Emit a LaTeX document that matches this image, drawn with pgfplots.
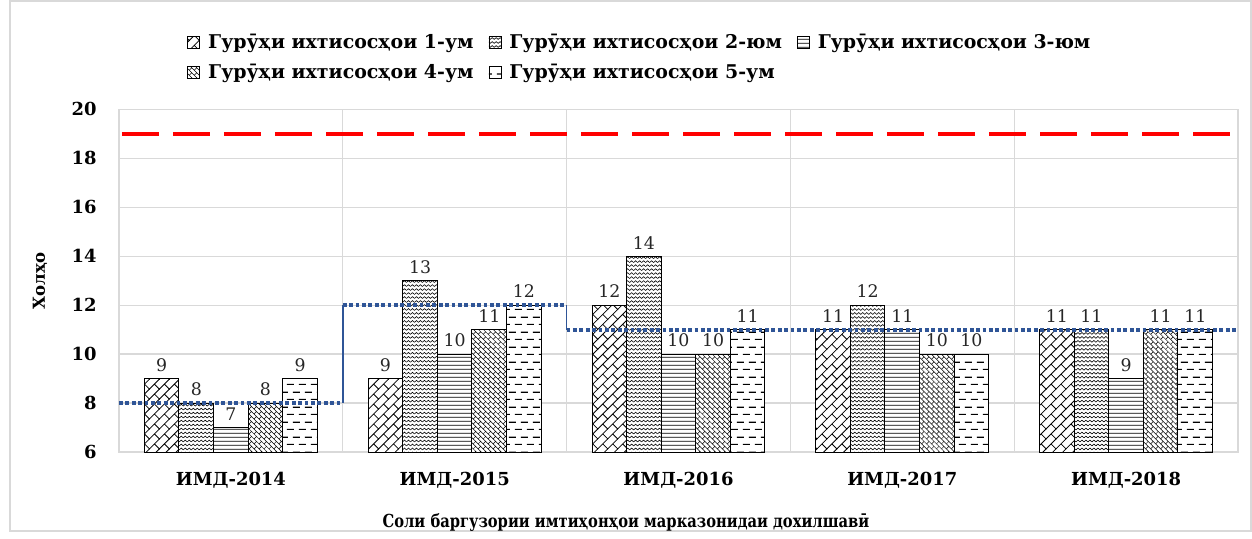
\documentclass[border=0pt]{standalone}
\usepackage{fontspec}
\setmainfont{DejaVu Serif}
\newfontfamily\condserif[FakeStretch=0.82]{DejaVu Serif}
\usepackage{pgfplots}
\pgfplotsset{compat=1.18}
\usetikzlibrary{patterns}

\pgfdeclarepatternformonly{diagbrick}{\pgfqpoint{-0.5pt}{-0.5pt}}{\pgfqpoint{5.5pt}{5.5pt}}{\pgfqpoint{5pt}{5pt}}{
  \pgfsetlinewidth{0.4pt}
  \pgfpathmoveto{\pgfqpoint{-0.2pt}{-0.2pt}}\pgfpathlineto{\pgfqpoint{5.2pt}{5.2pt}}
  \pgfpathmoveto{\pgfqpoint{5pt}{0pt}}\pgfpathlineto{\pgfqpoint{2.5pt}{2.5pt}}
  \pgfusepath{stroke}}
\pgfdeclarepatternformonly{wavy}{\pgfqpoint{-0.3pt}{0pt}}{\pgfqpoint{2.3pt}{2pt}}{\pgfqpoint{2pt}{2pt}}{
  \pgfsetlinewidth{0.3pt}
  \pgfpathmoveto{\pgfqpoint{0pt}{0.5pt}}\pgfpathlineto{\pgfqpoint{1pt}{1.4pt}}\pgfpathlineto{\pgfqpoint{2pt}{0.5pt}}
  \pgfusepath{stroke}}
\pgfdeclarepatternformonly{hlinesdense}{\pgfqpoint{0pt}{0pt}}{\pgfqpoint{1pt}{2.1pt}}{\pgfqpoint{1pt}{2.1pt}}{
  \pgfsetlinewidth{0.4pt}
  \pgfpathmoveto{\pgfqpoint{-0.1pt}{1.05pt}}\pgfpathlineto{\pgfqpoint{1.1pt}{1.05pt}}
  \pgfusepath{stroke}}
\pgfdeclarepatternformonly{weave}{\pgfqpoint{-0.3pt}{-0.3pt}}{\pgfqpoint{2.8pt}{2.8pt}}{\pgfqpoint{2.5pt}{2.5pt}}{
  \pgfsetlinewidth{0.25pt}
  \pgfpathmoveto{\pgfqpoint{0pt}{0pt}}\pgfpathlineto{\pgfqpoint{1.25pt}{1.25pt}}\pgfpathlineto{\pgfqpoint{2.5pt}{0pt}}
  \pgfpathmoveto{\pgfqpoint{0pt}{2.5pt}}\pgfpathlineto{\pgfqpoint{1.25pt}{1.25pt}}
  \pgfusepath{stroke}}
\pgfdeclarepatternformonly{dashrows}{\pgfqpoint{0pt}{0pt}}{\pgfqpoint{6pt}{7.6pt}}{\pgfqpoint{6pt}{7.6pt}}{
  \pgfsetlinewidth{0.6pt}
  \pgfpathmoveto{\pgfqpoint{0.5pt}{1.9pt}}\pgfpathlineto{\pgfqpoint{4pt}{1.9pt}}
  \pgfpathmoveto{\pgfqpoint{3.5pt}{5.7pt}}\pgfpathlineto{\pgfqpoint{6pt}{5.7pt}}
  \pgfpathmoveto{\pgfqpoint{0pt}{5.7pt}}\pgfpathlineto{\pgfqpoint{1pt}{5.7pt}}
  \pgfusepath{stroke}}

\definecolor{stepblue}{RGB}{47,85,151}

\begin{document}
\begin{tikzpicture}
\path (-59.5bp,-40bp) rectangle (566.5bp,226bp);
\draw[black!15, line width=0.7bp] (-54.5bp,-39.5bp) rectangle (566bp,225.5bp);
\begin{axis}[
  at={(0,0)}, anchor=south west,
  scale only axis, width=559.5bp, height=171.35bp,
  xmin=-0.5, xmax=4.5, ymin=6, ymax=20,
  ytick={6,8,...,20},
  xtick={0,1,2,3,4},
  xticklabels={ИМД-2014,ИМД-2015,ИМД-2016,ИМД-2017,ИМД-2018},
  minor xtick={0.5,1.5,2.5,3.5},
  xminorgrids, ymajorgrids,
  grid style={black!15, line width=0.6bp},
  minor grid style={black!15, line width=0.6bp},
  axis line style={black!15, line width=0.6bp},
  major tick length=0pt, minor tick length=0pt,
  /pgf/number format/assume math mode=true,
  yticklabel style={font=\bfseries\fontsize{9}{10}\selectfont, inner sep=0pt, anchor=east, xshift=-11bp},
  xticklabel style={font=\bfseries\fontsize{9}{10}\selectfont, inner sep=0pt, anchor=center, yshift=-14bp},
  ylabel={Холҳо},
  xlabel={Соли баргузории имтиҳонҳои марказонидаи дохилшавӣ},
  y label style={font=\bfseries\fontsize{8.3}{10}\selectfont, at={(axis description cs:-0.0706,0.5)}, anchor=center},
  x label style={font=\condserif\bfseries\fontsize{9}{10}\selectfont, at={(axis description cs:0.453,-0.207)}, anchor=center},
  ybar, bar width=0.1546,
  legend columns=3,
  legend cell align=left,
  legend style={at={(axis description cs:0.0608,1.232)}, anchor=north west, draw=none, fill=none,
    font=\bfseries\fontsize{9.5}{11}\selectfont, row sep=2.3bp, inner sep=0pt,
    /tikz/every odd column/.append style={column sep=2bp},
    /tikz/every even column/.append style={column sep=5.5bp}},
  legend image code/.code={\draw[#1, line width=0.4bp] (0bp,-3bp) rectangle (6bp,3bp);},
  barstyle/.style={ybar, draw=black, line width=0.5bp, fill=white, nodes near coords,
    every node near coord/.append style={font=\fontsize{8.7}{10}\selectfont, color=black!85}},
]
\addplot[barstyle, bar shift=-0.3092, postaction={pattern=diagbrick}] coordinates {(0,9) (1,9) (2,12) (3,11) (4,11)};
\addlegendentry{Гурӯҳи ихтисосҳои 1-ум}
\addplot[barstyle, bar shift=-0.1546, postaction={pattern=wavy}] coordinates {(0,8) (1,13) (2,14) (3,12) (4,11)};
\addlegendentry{Гурӯҳи ихтисосҳои 2-юм}
\addplot[barstyle, bar shift=0, postaction={pattern=hlinesdense}] coordinates {(0,7) (1,10) (2,10) (3,11) (4,9)};
\addlegendentry{Гурӯҳи ихтисосҳои 3-юм}
\addplot[barstyle, bar shift=0.1546, postaction={pattern=weave}] coordinates {(0,8) (1,11) (2,10) (3,10) (4,11)};
\addlegendentry{Гурӯҳи ихтисосҳои 4-ум}
\addplot[barstyle, bar shift=0.3092, postaction={pattern=dashrows}] coordinates {(0,9) (1,12) (2,11) (3,10) (4,11)};
\addlegendentry{Гурӯҳи ихтисосҳои 5-ум}

\addplot[forget plot, sharp plot, no marks, red, line width=2bp, dash pattern=on 18.5bp off 7bp, dash phase=-1.5bp] coordinates {(-0.5,19) (4.5,19)};
\addplot[forget plot, sharp plot, no marks, stepblue, line width=0.8bp] coordinates {(0.5,8) (0.5,12)};
\addplot[forget plot, sharp plot, no marks, stepblue, line width=0.8bp] coordinates {(1.5,12) (1.5,11)};
\addplot[forget plot, sharp plot, no marks, stepblue, line width=1.9bp, dash pattern=on 1.9bp off 1.3bp] coordinates {(-0.5,8) (0.5,8)};
\addplot[forget plot, sharp plot, no marks, stepblue, line width=1.9bp, dash pattern=on 1.9bp off 1.3bp] coordinates {(0.5,12) (1.5,12)};
\addplot[forget plot, sharp plot, no marks, stepblue, line width=1.9bp, dash pattern=on 1.9bp off 1.3bp] coordinates {(1.5,11) (4.5,11)};
\end{axis}
\end{tikzpicture}
\end{document}
